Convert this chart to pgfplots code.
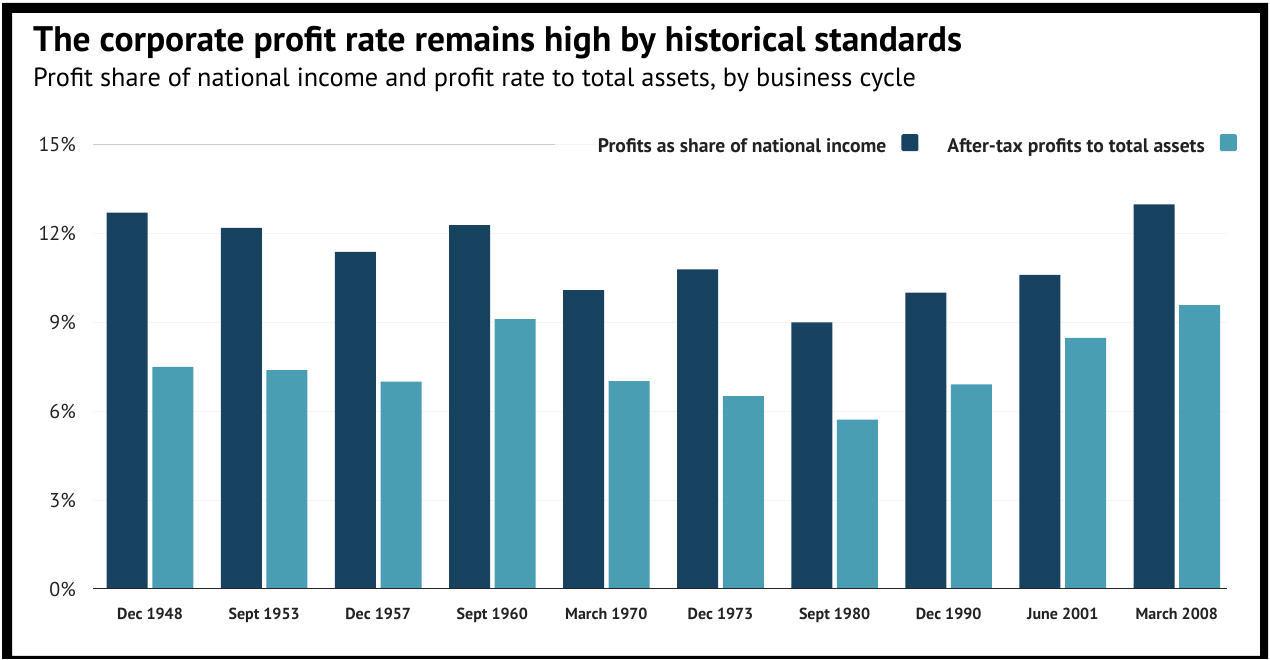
\documentclass[border=0pt]{standalone}
\usepackage{fontspec}
\setmainfont{PT Sans}
\usepackage{pgfplots}
\pgfplotsset{compat=1.18}
\definecolor{darkbar}{RGB}{23,66,96}
\definecolor{lightbar}{RGB}{74,158,180}
\definecolor{txt}{RGB}{34,34,34}
\begin{document}
\begin{tikzpicture}[x=1pt,y=1pt]
\useasboundingbox (0,0) rectangle (1270,660);
\fill[white] (0,0) rectangle (1270,660);
\fill[black, even odd rule] (2,1) rectangle (1268,657) (12,4) rectangle (1260,647);
\node[anchor=base west, inner sep=0pt, text=black, font=\fontsize{35.5}{38}\selectfont\bfseries] at (33,608) {The corporate profit rate remains high by historical standards};
\node[anchor=base west, inner sep=0pt, text=black, font=\fontsize{26.3}{29}\selectfont] at (33,573.5) {Profit share of national income and profit rate to total assets, by business cycle};
\begin{axis}[
  at={(93pt,71pt)}, anchor=south west,
  scale only axis, width=1134pt, height=444.4pt,
  xmin=-0.5, xmax=9.44, ymin=0, ymax=15,
  ybar, bar width=41pt,
  axis line style={draw=none},
  major tick length=0pt,
  ytick={0,3,6,9,12,15},
  ymajorgrids, grid style={gray!8, line width=1pt},
  /pgf/number format/assume math mode=true,
  yticklabel={\pgfmathprintnumber{\tick}\%},
  yticklabel style={anchor=east, inner sep=0pt, xshift=-17pt, text=txt, font=\fontsize{20}{22}\selectfont},
  xtick={0,...,9},
  xticklabels={Dec 1948, Sept 1953, Dec 1957, Sept 1960, March 1970, Dec 1973, Sept 1980, Dec 1990, June 2001, March 2008},
  xticklabel style={anchor=north, inner sep=0pt, yshift=-19pt, text=txt, font=\fontsize{16}{18}\selectfont\bfseries},
  legend columns=2,
  legend plot pos=right,
  legend image code/.code={\path (0,0); \fill[#1, rounded corners=1.5pt] (15pt,-5pt) rectangle (32pt,12pt);},
  legend style={at={(1.0088,1.0014)}, anchor=east, draw=none, fill=white, inner sep=0pt,
    nodes={inner sep=0pt}, text=txt, font=\fontsize{19.6}{21}\selectfont\bfseries,
    /tikz/every even column/.append style={column sep=29pt}},
]
\addplot[fill=darkbar, draw=none, bar shift=-22.8pt] coordinates {
(0,12.70) (1,12.19) (2,11.38) (3,12.28) (4,10.09) (5,10.79) (6,9.00) (7,10.00) (8,10.60) (9,12.98)};
\addplot[fill=lightbar, draw=none, bar shift=22.8pt] coordinates {
(0,7.50) (1,7.39) (2,7.00) (3,9.11) (4,7.02) (5,6.51) (6,5.72) (7,6.91) (8,8.48) (9,9.58)};
\legend{Profits as share of national income, After-tax profits to total assets}
\draw[gray!40, line width=1pt] (axis cs:-0.5,15) -- (axis cs:3.55,15);
\draw[black!85, line width=1.5pt] (axis cs:-0.5,0) -- (axis cs:9.44,0);
\end{axis}
\end{tikzpicture}
\end{document}
